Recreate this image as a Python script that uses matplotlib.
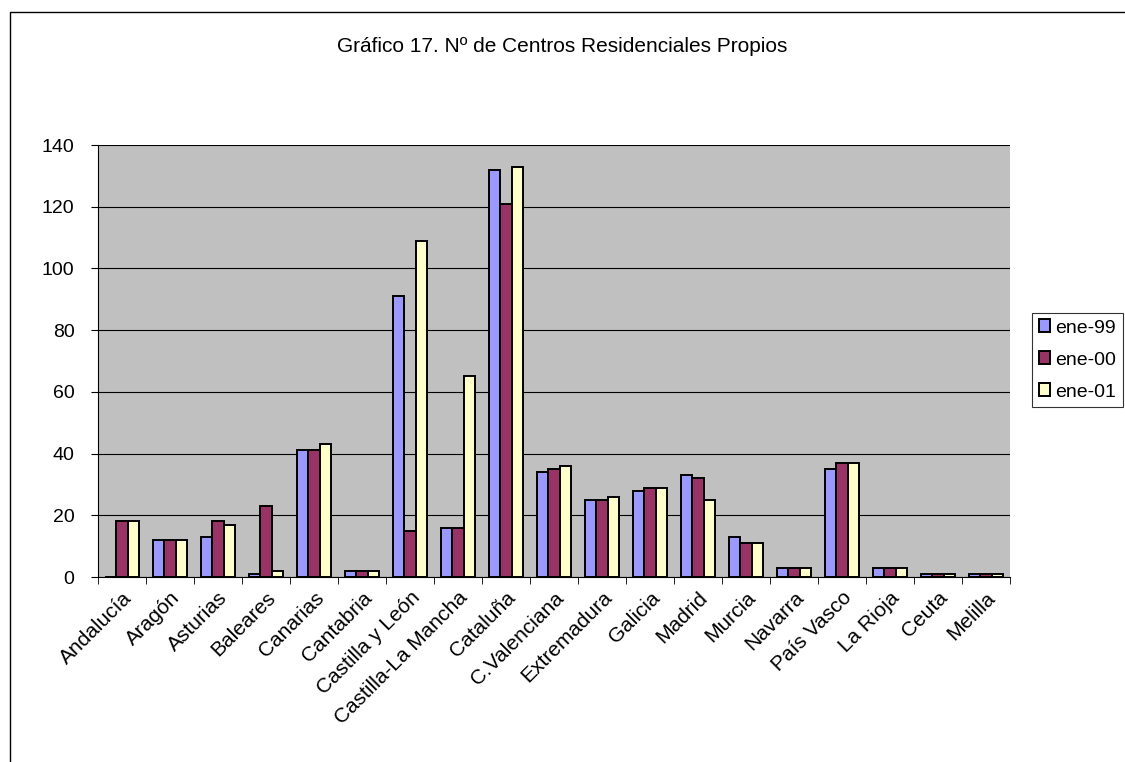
import numpy as np
import matplotlib.pyplot as plt
from matplotlib.patches import Rectangle

regiones = ["Andalucía", "Aragón", "Asturias", "Baleares", "Canarias", "Cantabria",
            "Castilla y León", "Castilla-La Mancha", "Cataluña", "C.Valenciana",
            "Extremadura", "Galicia", "Madrid", "Murcia", "Navarra", "País Vasco",
            "La Rioja", "Ceuta", "Melilla"]
ene99 = [0, 12, 13, 1, 41, 2, 91, 16, 132, 34, 25, 28, 33, 13, 3, 35, 3, 1, 1]
ene00 = [18, 12, 18, 23, 41, 2, 15, 16, 121, 35, 25, 29, 32, 11, 3, 37, 3, 1, 1]
ene01 = [18, 12, 17, 2, 43, 2, 109, 65, 133, 36, 26, 29, 25, 11, 3, 37, 3, 1, 1]

series = [("ene-99", ene99, "#9999FF"),
          ("ene-00", ene00, "#993366"),
          ("ene-01", ene01, "#FFFFCC")]

plt.rcParams['font.family'] = ['Liberation Sans', 'DejaVu Sans']

fig = plt.figure(figsize=(11.25, 7.62), dpi=100)
ax = fig.add_axes([98/1125, 1-577/762, 912/1125, 432/762])
ax.set_facecolor("#C0C0C0")

# chart-area border (partly cut off in the original)
fig.patches.append(Rectangle((10/1125, -0.05), 1.2, 1-12/762+0.05,
                             transform=fig.transFigure, fill=False,
                             edgecolor="black", linewidth=1))

x = np.arange(len(regiones))
w = 0.23
for i, (nombre, vals, color) in enumerate(series):
    ax.bar(x + (i-1)*w, vals, w, color=color, edgecolor="black",
           linewidth=1.4, label=nombre, zorder=3)

ax.set_xlim(-0.5, len(regiones)-0.5)
ax.set_ylim(0, 140)
ax.set_yticks(range(0, 141, 20))
ax.yaxis.grid(True, color="black", linewidth=0.8, zorder=1)
ax.tick_params(axis="y", labelsize=14, length=5, color="black", pad=12)

ax.set_xticks(x)
ax.set_xticklabels(regiones, rotation=45, ha="right", rotation_mode="anchor",
                   fontsize=15)
ax.tick_params(axis="x", length=0, pad=8)
ax.set_xticks(np.arange(-0.5, len(regiones)), minor=True)
ax.tick_params(axis="x", which="minor", length=5, color="black")

for s in ["top", "right"]:
    ax.spines[s].set_visible(False)
ax.spines["left"].set_color("black")
ax.spines["bottom"].set_color("black")

fig.text(0.5, 1-46/762, "Gráfico 17. Nº de Centros Residenciales Propios",
         ha="center", va="center", fontsize=15)

leg = ax.legend(loc="center left", bbox_to_anchor=(1032/1125, 1-360/762),
                bbox_transform=fig.transFigure, frameon=True, fancybox=False,
                edgecolor="black", fontsize=14, handlelength=0.6,
                handleheight=0.65, handletextpad=0.25, labelspacing=0.75,
                borderpad=0.35, borderaxespad=0)
leg.get_frame().set_linewidth(0.8)

fig.savefig("out.png", dpi=100)
